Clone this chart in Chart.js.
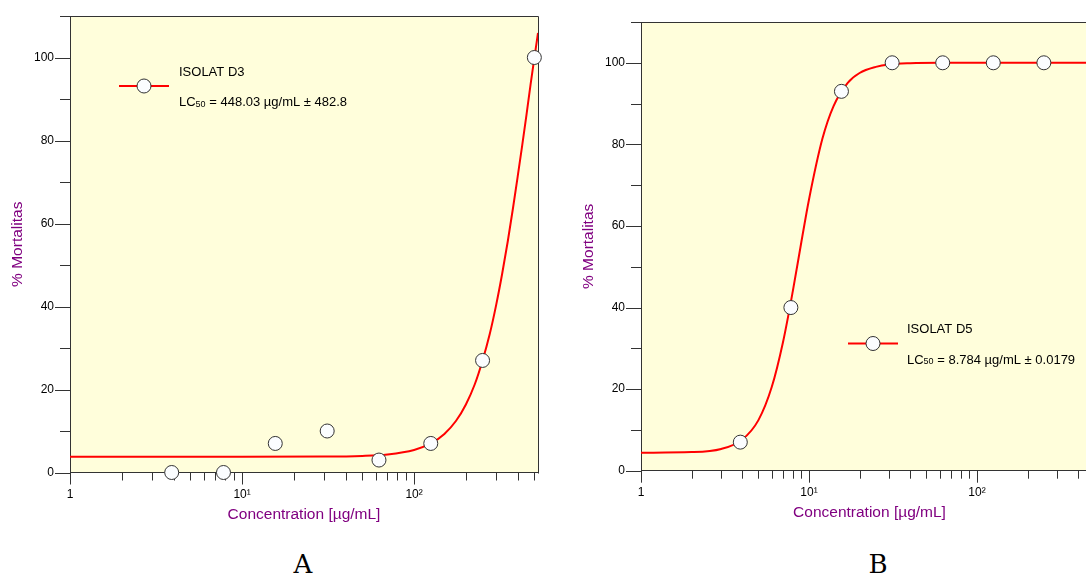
<!DOCTYPE html>
<html>
<head>
<meta charset="utf-8">
<script src="https://cdn.jsdelivr.net/npm/chart.js@4.4.1/dist/chart.umd.min.js"></script>
<style>
  html, body { margin: 0; padding: 0; background: #fff; overflow: hidden; }
  #wrap { position: relative; width: 1086px; height: 577px; overflow: hidden; }
  canvas { position: absolute; top: 0; }
  #chartA { left: 0; }
  #chartB { left: 571px; }
  .panel { position: absolute; top: 551px; width: 60px; margin-left: -30px; text-align: center;
           font: 26px/26px "DejaVu Serif", serif; color: #000; }
</style>
</head>
<body>
<div id="wrap">
  <canvas id="chartA" width="560" height="530"></canvas>
  <canvas id="chartB" width="549" height="528"></canvas>
  <div class="panel" style="left:303px">A</div>
  <div class="panel" style="left:878px">B</div>
</div>
<script>
// konsentrasi uji (µg/mL)
const concentrations = [3.9, 7.8, 15.6, 31.25, 62.5, 125, 250, 500];
// % mortalitas tiap isolat
const mortalityD3 = [0, 0, 7, 10, 3, 7, 27, 100];
const mortalityD5 = [7, 40, 93, 100, 100, 100, 100, 100];

// kurva fit
const fitD3X = [1, 10, 30, 50, 70, 100, 125, 150, 175, 200, 225, 250, 275, 300, 325, 350, 375, 400, 425, 450, 475, 500, 525];
const fitD3Y = [3.8, 3.8, 3.84, 4.0, 4.36, 5.44, 7.0, 9.3, 12.4, 16.4, 21.2, 27.0, 33.3, 40.4, 47.9, 55.6, 63.5, 71.3, 78.8, 86.2, 93.4, 99.9, 105.9];
const fitD5X = [1, 2, 3, 4, 5, 6, 7, 8, 9, 10, 12, 14, 17, 20, 25, 30, 40, 60, 120, 250, 530];
const fitD5Y = [4.41, 4.56, 5.34, 7.61, 12.4, 20.5, 31.5, 43.9, 56.0, 66.5, 81.3, 89.4, 95.1, 97.5, 99.0, 99.6, 99.9, 100, 100, 100, 100];

// sumbu
const yTicks = [0, 10, 20, 30, 40, 50, 60, 70, 80, 90, 100, 110];
const yLabels = [0, 20, 40, 60, 80, 100];
const xTicks = [1, 2, 3, 4, 5, 6, 7, 8, 9, 10, 20, 30, 40, 50, 60, 70, 80, 90, 100, 200, 300, 400, 500];
const xLabels = { 1: '1', 10: '10\u00b9', 100: '10\u00b2' };

const axisColor = '#333';
const fontFamily = '"Liberation Sans", Arial, sans-serif';
Chart.defaults.font.family = fontFamily;

function crisp(v) { return Math.round(v) + 0.5; }

const frame = {
  id: 'frame',
  beforeDraw(chart) {
    const { ctx, chartArea: a } = chart;
    ctx.save();
    ctx.fillStyle = '#fffedb';
    ctx.fillRect(a.left, a.top, a.right - a.left, a.bottom - a.top);
    ctx.restore();
  },
  beforeDatasetsDraw(chart) {
    const { ctx, chartArea: a } = chart;
    const xs = chart.scales.x, ys = chart.scales.y;
    ctx.save();
    ctx.strokeStyle = axisColor;
    ctx.lineWidth = 1;
    ctx.beginPath();
    // garis atas dan kanan
    ctx.moveTo(crisp(a.left), crisp(a.top));
    ctx.lineTo(crisp(a.right), crisp(a.top));
    ctx.lineTo(crisp(a.right), crisp(a.bottom));
    // tick x
    xTicks.forEach(v => {
      const px = crisp(xs.getPixelForValue(v));
      const len = xLabels[v] ? 12 : 8;
      ctx.moveTo(px, a.bottom);
      ctx.lineTo(px, a.bottom + len);
    });
    // tick y
    yTicks.forEach(v => {
      const py = crisp(ys.getPixelForValue(v));
      const len = yLabels.includes(v) ? 15 : 10;
      ctx.moveTo(a.left - len, py);
      ctx.lineTo(a.left, py);
    });
    ctx.stroke();
    ctx.restore();
  },
  afterDatasetsDraw(chart, args, opts) {
    const { ctx } = chart;
    ctx.save();
    // simbol legenda
    ctx.strokeStyle = '#ff0000';
    ctx.lineWidth = 2;
    ctx.beginPath();
    ctx.moveTo(opts.lineX, opts.lineY);
    ctx.lineTo(opts.lineX + 50, opts.lineY);
    ctx.stroke();
    ctx.beginPath();
    ctx.arc(opts.lineX + 25, opts.lineY, 7, 0, Math.PI * 2);
    ctx.fillStyle = '#fbfdff';
    ctx.fill();
    ctx.strokeStyle = axisColor;
    ctx.lineWidth = 1;
    ctx.stroke();
    // teks legenda
    ctx.fillStyle = '#000';
    ctx.textBaseline = 'middle';
    ctx.font = '13px ' + fontFamily;
    ctx.fillText(opts.name, opts.textX, opts.text1Y);
    let x = opts.textX;
    ctx.fillText('LC', x, opts.text2Y);
    x += ctx.measureText('LC').width;
    ctx.font = '9px ' + fontFamily;
    ctx.fillText('50', x, opts.text2Y + 2);
    x += ctx.measureText('50').width;
    ctx.font = '13px ' + fontFamily;
    ctx.fillText(opts.lc, x, opts.text2Y);
    ctx.restore();
  }
};

function makeChart(id, mortality, fitX, fitY, box, legend) {
  return new Chart(document.getElementById(id), {
    type: 'scatter',
    data: {
      datasets: [
        {
          data: fitX.map((x, i) => ({ x: x, y: fitY[i] })),
          showLine: true,
          borderColor: '#ff0000',
          borderWidth: 2,
          pointRadius: 0,
          cubicInterpolationMode: 'monotone',
          order: 2
        },
        {
          data: concentrations.map((x, i) => ({ x: x, y: mortality[i] })),
          showLine: false,
          pointRadius: 7,
          pointBackgroundColor: '#fbfdff',
          pointBorderColor: axisColor,
          pointBorderWidth: 1,
          clip: false,
          order: 1
        }
      ]
    },
    options: {
      responsive: false,
      animation: false,
      layout: { padding: { top: box.top, right: 22, left: 0, bottom: 0 } },
      plugins: {
        legend: { display: false },
        tooltip: { enabled: false },
        frame: legend
      },
      scales: {
        x: {
          type: 'logarithmic',
          min: 1,
          max: 525,
          afterBuildTicks: s => { s.ticks = xTicks.map(v => ({ value: v })); },
          afterFit: s => { s.height = box.xHeight; },
          ticks: {
            callback: v => xLabels[v] || '',
            autoSkip: false,
            maxRotation: 0,
            padding: 3,
            color: '#000',
            font: { size: 12 }
          },
          grid: { drawOnChartArea: false, tickLength: 12, tickColor: 'transparent' },
          border: { color: axisColor, width: 1 },
          title: {
            display: true,
            text: 'Concentration [\u00b5g/mL]',
            color: '#800080',
            font: { size: 15.5 },
            padding: { top: 0, bottom: 6 }
          }
        },
        y: {
          min: 0,
          max: 110,
          afterBuildTicks: s => { s.ticks = yTicks.map(v => ({ value: v })); },
          afterFit: s => { s.width = 70; },
          ticks: {
            callback: v => yLabels.includes(v) ? String(v) : '',
            autoSkip: false,
            padding: 1,
            color: '#000',
            font: { size: 12 }
          },
          grid: { drawOnChartArea: false, tickLength: 15, tickColor: 'transparent' },
          border: { color: axisColor, width: 1 },
          title: {
            display: true,
            text: '% Mortalitas',
            color: '#800080',
            font: { size: 15.5 },
            padding: { top: 8, bottom: 0 }
          }
        }
      }
    },
    plugins: [frame]
  });
}

makeChart('chartA', mortalityD3, fitD3X, fitD3Y,
  { top: 16, xHeight: 57.5 },
  { name: 'ISOLAT D3', lc: ' = 448.03 \u00b5g/mL \u00b1 482.8',
    lineX: 119, lineY: 86, textX: 179, text1Y: 72.5, text2Y: 102.5 });

makeChart('chartB', mortalityD5, fitD5X, fitD5Y,
  { top: 22, xHeight: 57.3 },
  { name: 'ISOLAT D5', lc: ' = 8.784 \u00b5g/mL \u00b1 0.0179',
    lineX: 277, lineY: 343.5, textX: 336, text1Y: 329.5, text2Y: 360 });
</script>
</body>
</html>
